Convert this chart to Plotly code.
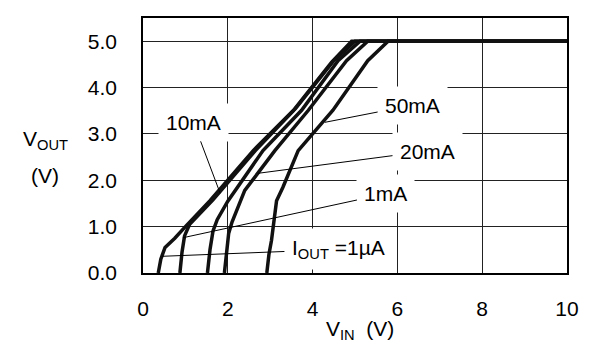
import plotly.graph_objects as go

# Curves: V_OUT vs V_IN for several output currents
curve_names = ["1µA", "1mA", "10mA", "20mA", "50mA"]
vin_1ua = [0.36, 0.42, 0.52, 0.75, 1.0, 1.58, 2.6, 3.55, 4.45, 4.92, 10.0]
vout_1ua = [0.0, 0.3, 0.55, 0.75, 1.0, 1.56, 2.64, 3.51, 4.55, 5.0, 5.0]
vin_1ma = [0.87, 0.92, 0.98, 1.1, 1.65, 2.65, 3.6, 4.5, 5.0, 10.0]
vout_1ma = [0.0, 0.45, 0.8, 1.05, 1.58, 2.64, 3.55, 4.58, 5.0, 5.0]
vin_10ma = [1.52, 1.58, 1.65, 1.75, 2.0, 2.83, 3.74, 4.6, 5.12, 10.0]
vout_10ma = [0.0, 0.5, 0.9, 1.15, 1.55, 2.64, 3.51, 4.58, 5.0, 5.0]
vin_20ma = [1.92, 1.97, 2.02, 2.1, 2.29, 2.4, 3.11, 3.9, 4.8, 5.3, 10.0]
vout_20ma = [0.0, 0.5, 0.85, 1.1, 1.56, 1.78, 2.64, 3.51, 4.58, 5.0, 5.0]
vin_50ma = [2.92, 2.97, 3.03, 3.11, 3.15, 3.3, 3.66, 4.48, 5.3, 5.78, 10.0]
vout_50ma = [0.0, 0.4, 0.7, 1.35, 1.56, 1.85, 2.64, 3.51, 4.58, 5.0, 5.0]

x_ticks = [0, 2, 4, 6, 8, 10]
x_tick_text = ["0", "2", "4", "6", "8", "10"]
y_ticks = [0, 1, 2, 3, 4, 5]
y_tick_text = ["0.0", "1.0", "2.0", "3.0", "4.0", "5.0"]

# Callout labels: text, label centre (data), pointed curve point (data)
label_text = ["10mA", "50mA", "20mA", "1mA", "I<sub>OUT</sub> =1µA"]
label_x = [1.19, 6.36, 6.71, 5.73, 4.61]
label_y = [3.25, 3.62, 2.63, 1.71, 0.51]
target_x = [1.82, 4.29, 2.71, 0.94, 0.45]
target_y = [1.72, 3.25, 2.15, 0.76, 0.36]

FONT = "Liberation Sans, Arial, sans-serif"
FS = 21

fig = go.Figure()
series = [(vin_1ua, vout_1ua), (vin_1ma, vout_1ma), (vin_10ma, vout_10ma),
          (vin_20ma, vout_20ma), (vin_50ma, vout_50ma)]
for name, (xs, ys) in zip(curve_names, series):
    fig.add_trace(go.Scatter(x=xs, y=ys, mode="lines", name=name,
                             line=dict(color="#111111", width=3.5),
                             showlegend=False, hoverinfo="skip"))

for t, lx, ly, tx, ty in zip(label_text, label_x, label_y, target_x, target_y):
    fig.add_annotation(x=tx, y=ty, xref="x", yref="y",
                       ax=lx, ay=ly, axref="x", ayref="y",
                       text=t, showarrow=True, arrowhead=0, arrowwidth=1,
                       arrowcolor="black", standoff=0,
                       bgcolor="white", borderpad=7,
                       font=dict(family=FONT, size=FS, color="black"))

fig.add_annotation(text="V<sub>OUT</sub>", xref="paper", yref="paper",
                   x=(45 - 143) / 424, y=(273 - 140) / 255,
                   xanchor="center", yanchor="middle", showarrow=False,
                   font=dict(family=FONT, size=FS, color="black"))
fig.add_annotation(text="(V)", xref="paper", yref="paper",
                   x=(45 - 143) / 424, y=(273 - 175) / 255,
                   xanchor="center", yanchor="middle", showarrow=False,
                   font=dict(family=FONT, size=FS, color="black"))
fig.add_annotation(text="V<sub>IN</sub>  (V)", xref="paper", yref="paper",
                   x=(360 - 143) / 424, y=(273 - 330) / 255,
                   xanchor="center", yanchor="middle", showarrow=False,
                   font=dict(family=FONT, size=FS, color="black"))

fig.update_xaxes(range=[0, 10], tickvals=x_ticks, ticktext=x_tick_text,
                 showgrid=True, gridcolor="#222222", gridwidth=1,
                 showline=True, linecolor="black", linewidth=1.5, mirror=True,
                 zeroline=False, ticks="", ticklabelstandoff=16,
                 tickfont=dict(family=FONT, size=FS, color="black"))
fig.update_yaxes(range=[0, 5.5], tickvals=y_ticks, ticktext=y_tick_text,
                 showgrid=True, gridcolor="#222222", gridwidth=1,
                 showline=True, linecolor="black", linewidth=1.5, mirror=True,
                 zeroline=False, ticks="", ticklabelstandoff=20,
                 tickfont=dict(family=FONT, size=FS, color="black"))

fig.update_layout(width=590, height=347,
                  margin=dict(l=143, r=23, t=18, b=74),
                  plot_bgcolor="white", paper_bgcolor="white",
                  showlegend=False)

fig.write_html("out.html", config={"displayModeBar": False},
               post_script="document.body.style.margin='0px';")
